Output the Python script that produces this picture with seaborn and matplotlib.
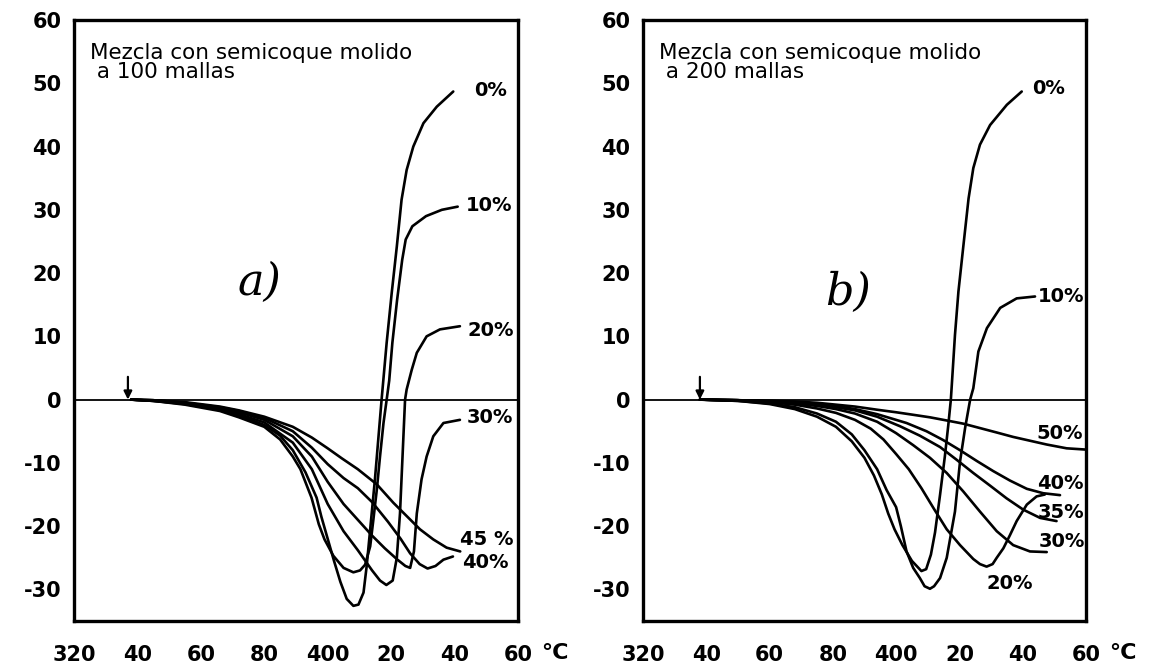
import matplotlib
matplotlib.use("Agg")
import matplotlib.pyplot as plt
import seaborn as sns

# ---------------- data (temperature °C, dilatation %) ----------------
X_TICKS = [320, 340, 360, 380, 400, 420, 440, 460]
X_TICK_LABELS = ["320", "40", "60", "80", "400", "20", "40", "60"]
Y_TICKS = [-30, -20, -10, 0, 10, 20, 30, 40, 50, 60]
Y_TICK_LABELS = ["-30", "-20", "-10", "0", "10", "20", "30", "40", "50", "60"]

# panel a) 100 mallas
A0_X = [338, 345, 355, 366, 372, 380, 385, 389, 393, 396.5, 398, 400, 402, 404, 406, 408.1, 409.7, 411.3, 412.3, 413.4, 414.9, 417.0, 418.6, 420.2, 421.8, 423.3, 424.9, 427.0, 430.2, 434.4, 439.6]
A0_Y = [0, -0.2, -0.7, -1.6, -2.5, -4.0, -5.7, -8.0, -11.5, -15.5, -18.5, -22.0, -25.5, -28.8, -31.5, -32.6, -32.4, -30.5, -26.3, -20.5, -12.6, 0, 9.0, 16.9, 24.2, 31.6, 36.3, 40.0, 43.7, 46.3, 48.7]
A10_X = [338, 345, 355, 366, 372, 380, 385, 389, 391.4, 394.9, 397.2, 399, 401.8, 405, 408.1, 410.2, 411.8, 413.4, 414.4, 415.5, 416.5, 417.6, 418.6, 419.4, 420.4, 421.9, 423.5, 424.6, 426.7, 431, 436, 441]
A10_Y = [0, -0.2, -0.8, -1.8, -2.8, -4.3, -6.3, -9.0, -11.0, -15.5, -19.7, -22.1, -24.7, -26.6, -27.3, -27.0, -26.1, -23.2, -19.0, -14.2, -9.0, -3.7, 0, 3.0, 9.0, 15.8, 22.1, 25.3, 27.4, 29.0, 30.0, 30.5]
A20_X = [338, 345, 355, 366, 372, 380, 389, 395, 400, 405, 409.5, 414, 416.5, 418.5, 420.5, 421.8, 422.8, 423.6, 424.4, 424.9, 426.5, 428.1, 431.2, 435.4, 441.7]
A20_Y = [0, -0.2, -0.6, -1.5, -2.3, -3.6, -6.8, -11.0, -16.5, -20.8, -23.8, -27.0, -28.6, -29.3, -28.6, -25.0, -18.0, -9.0, 0, 1.6, 4.7, 7.4, 10.0, 11.1, 11.6]
A30_X = [338, 345, 355, 366, 372, 380, 389, 395, 400, 405, 409.5, 414, 418, 422, 424.5, 426, 427.2, 428.1, 429.6, 431.2, 433.3, 436.5, 441.7]
A30_Y = [0, -0.1, -0.5, -1.3, -2.0, -3.2, -5.8, -9.0, -13.0, -16.5, -19.0, -21.5, -23.5, -25.3, -26.3, -26.6, -24.0, -18.0, -12.6, -9.0, -5.8, -3.7, -3.2]
A40_X = [338, 345, 355, 366, 372, 380, 389, 395, 400, 405, 409.5, 414, 419, 423, 426, 429, 431.5, 434, 436.5, 439.5]
A40_Y = [0, -0.1, -0.5, -1.2, -1.8, -2.9, -5.0, -7.6, -10.2, -12.4, -14.0, -16.2, -19.3, -22.0, -24.3, -26.0, -26.7, -26.3, -25.3, -24.8]
A45_X = [338, 345, 355, 366, 372, 380, 389, 395, 400, 404.5, 409.5, 415.5, 420.7, 424.9, 429.1, 433.3, 437.5, 441.8]
A45_Y = [0, -0.1, -0.4, -1.1, -1.7, -2.7, -4.3, -6.0, -7.7, -9.3, -11.0, -13.4, -16.3, -18.4, -20.5, -22.1, -23.4, -24.0]

# panel b) 200 mallas
B0_X = [338, 350, 360, 368, 375, 381, 386, 390, 393, 395.5, 397.5, 399.5, 402, 405, 408, 409.5, 411, 412.3, 413.9, 415.4, 416.5, 417.3, 417.6, 418.6, 419.7, 421.3, 422.9, 424.4, 426.5, 429.7, 435, 439.7]
B0_Y = [0, -0.2, -0.7, -1.5, -2.7, -4.3, -6.6, -9.2, -12.0, -15.0, -18.0, -20.5, -23.0, -25.5, -27.1, -26.8, -24.5, -21.0, -15.0, -9.0, -4.0, 0, 2.3, 10.2, 17.1, 24.5, 31.8, 36.6, 40.3, 43.4, 46.6, 48.7]
B10_X = [338, 350, 360, 368, 375, 381, 386, 390, 394, 397, 400, 401.5, 403.3, 405.4, 407.5, 409, 410.7, 412, 413.9, 416, 418.6, 420.2, 421.8, 423.4, 424.4, 426, 428.7, 432.9, 438.1, 443.9]
B10_Y = [0, -0.2, -0.6, -1.2, -2.2, -3.5, -5.5, -8.0, -11.0, -14.3, -17.0, -20.0, -24.0, -26.6, -28.2, -29.5, -29.9, -29.5, -28.2, -25.0, -17.7, -9.8, -4.5, 0, 1.8, 7.6, 11.3, 14.5, 16.0, 16.3]
B20_X = [338, 350, 360, 368, 375, 381, 387, 392, 396, 400, 404, 408, 412, 416, 420.2, 424.4, 426.5, 428.6, 430.5, 431.8, 433.9, 436, 438.1, 441.3, 444.4, 447]
B20_Y = [0, -0.1, -0.4, -0.8, -1.4, -2.1, -3.2, -4.6, -6.3, -8.6, -11.0, -14.0, -17.3, -20.5, -23.0, -25.2, -26.0, -26.4, -26.0, -25.0, -23.5, -21.4, -19.2, -16.6, -15.3, -15.0]
B30_X = [338, 350, 360, 368, 375, 381, 387, 394, 400, 405.4, 410.7, 416, 421.2, 426.5, 431.8, 437, 442.3, 447.6]
B30_Y = [0, -0.1, -0.3, -0.6, -1.0, -1.5, -2.2, -3.5, -5.3, -7.2, -9.2, -11.6, -14.5, -17.7, -20.8, -23.0, -24.0, -24.1]
B35_X = [338, 350, 360, 368, 375, 381, 387, 394, 401.2, 407.5, 413.9, 419.1, 424.4, 429.7, 434.9, 440.2, 445.5, 450.7]
B35_Y = [0, -0.1, -0.3, -0.5, -0.8, -1.2, -1.7, -2.7, -4.2, -5.7, -7.5, -9.5, -11.6, -13.6, -15.6, -17.4, -18.7, -19.2]
B40_X = [338, 350, 360, 368, 375, 381, 387, 394, 403.3, 409.6, 414.9, 420.2, 425.5, 430.7, 436, 441.3, 446.5, 451.8]
B40_Y = [0, -0.1, -0.2, -0.4, -0.7, -1.0, -1.5, -2.3, -3.7, -5.0, -6.4, -8.0, -9.7, -11.3, -12.8, -14.1, -14.8, -15.1]
B50_X = [338, 350, 360, 368, 375, 381, 387, 394, 400, 405.4, 410.7, 416, 421.2, 426.5, 431.8, 437, 442.3, 447.6, 453.9, 460]
B50_Y = [0, -0.1, -0.2, -0.3, -0.5, -0.8, -1.1, -1.6, -2.0, -2.4, -2.8, -3.3, -3.8, -4.5, -5.2, -5.9, -6.5, -7.1, -7.7, -7.9]

A_LABELS = ["0%", "10%", "20%", "30%", "45 %", "40%"]
A_LABEL_X = [451.5, 451.0, 451.5, 451.0, 450.2, 449.8]
A_LABEL_Y = [48.8, 30.7, 11.0, -2.8, -22.1, -25.8]
B_LABELS = ["0%", "10%", "50%", "40%", "35%", "30%", "20%"]
B_LABEL_X = [448.3, 452.0, 451.8, 452.0, 452.0, 452.3, 435.8]
B_LABEL_Y = [49.2, 16.3, -5.3, -13.2, -17.9, -22.5, -29.0]

PANEL_A = [(A0_X, A0_Y), (A10_X, A10_Y), (A20_X, A20_Y), (A30_X, A30_Y), (A40_X, A40_Y), (A45_X, A45_Y)]
PANEL_B = [(B0_X, B0_Y), (B10_X, B10_Y), (B20_X, B20_Y), (B30_X, B30_Y), (B35_X, B35_Y), (B40_X, B40_Y), (B50_X, B50_Y)]

TITLE_A = "Mezcla con semicoque molido\n a 100 mallas"
TITLE_B = "Mezcla con semicoque molido\n a 200 mallas"
ARROW_X = [337, 338]

# ---------------- style ----------------
sns.set_style("white")
plt.rcParams["font.family"] = ["DejaVu Sans"]
plt.rcParams["text.color"] = "black"
plt.rcParams["xtick.color"] = "black"
plt.rcParams["ytick.color"] = "black"
plt.rcParams["axes.edgecolor"] = "black"

fig = plt.figure(figsize=(11.51, 6.63), dpi=100)
fig.patch.set_facecolor("white")
ax_a = fig.add_axes([0.0643, 0.0633, 0.3857, 0.9065])
ax_b = fig.add_axes([0.5586, 0.0633, 0.3849, 0.9065])


def draw_panel(ax, curves, labels, lx, ly, title, tag, arrow_x):
    for xs, ys in curves:
        sns.lineplot(x=xs, y=ys, sort=False, estimator=None, color="black",
                     linewidth=1.9, ax=ax, legend=False)
    ax.axhline(0, color="black", linewidth=1.3, zorder=1)
    ax.set_xlim(320, 460)
    ax.set_ylim(-35, 60)
    ax.set_xticks(X_TICKS, X_TICK_LABELS)
    ax.set_yticks(Y_TICKS, Y_TICK_LABELS)
    ax.tick_params(axis="x", direction="in", length=7, width=1.5, pad=17,
                   labelsize=15, colors="black")
    ax.tick_params(axis="y", direction="in", length=7, width=1.5, pad=9,
                   labelsize=15, colors="black")
    for t in ax.get_xticklabels() + ax.get_yticklabels():
        t.set_fontweight("bold")
    for s in ax.spines.values():
        s.set_linewidth(2.4)
        s.set_color("black")
    ax.set_xlabel("")
    ax.set_ylabel("")
    ax.text(1.052, -0.053, "°C", transform=ax.transAxes, ha="left",
            va="center", fontsize=16, fontweight="bold", color="black")
    for lab, x, y in zip(labels, lx, ly):
        ax.text(x, y, lab, ha="center", va="center", fontsize=14,
                fontweight="bold", color="black")
    ax.text(0.037, 0.962, title, transform=ax.transAxes, ha="left",
            va="top", fontsize=15.5, linespacing=0.95, color="black")
    ax.text(tag[1], tag[2], tag[0], ha="center", va="center", fontsize=32,
            fontstyle="italic", family="DejaVu Serif", color="black")
    ax.annotate("", xy=(arrow_x, 0), xytext=(arrow_x, 3.6),
                arrowprops=dict(arrowstyle="-|>", color="black", lw=1.6,
                                mutation_scale=12, shrinkA=0, shrinkB=0))


draw_panel(ax_a, PANEL_A, A_LABELS, A_LABEL_X, A_LABEL_Y, TITLE_A,
           ("a)", 378.5, 18.5), ARROW_X[0])
draw_panel(ax_b, PANEL_B, B_LABELS, B_LABEL_X, B_LABEL_Y, TITLE_B,
           ("b)", 384.8, 17.0), ARROW_X[1])

fig.savefig("out.png", dpi=100, facecolor="white")
